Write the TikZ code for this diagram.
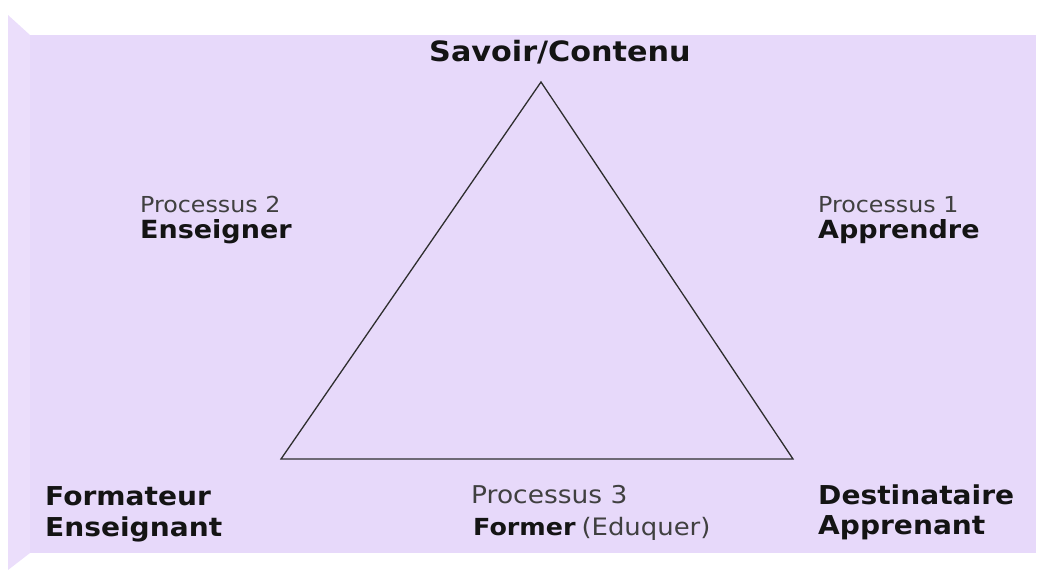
\documentclass[tikz,border=0pt]{standalone}
\usepackage{fontspec}
\setmainfont{DejaVu Sans}[FakeStretch=1.08]
\usetikzlibrary{positioning}
\definecolor{lavande}{HTML}{E7D9FA}
\definecolor{lavandeclair}{HTML}{EBDEFB}
\definecolor{trait}{HTML}{2E2E2E}
\tikzset{
  titre/.style={font=\fontsize{26}{30}\selectfont\bfseries, text=black!92, inner sep=0pt},
  processus/.style={font=\fontsize{22}{26}\selectfont, text=black!75, inner sep=0pt},
}

\begin{document}
\begin{tikzpicture}[x=1pt,y=-1pt]
\useasboundingbox (0,0) rectangle (1044,570);
% fond
\fill[lavandeclair] (8,15) -- (30,35) -- (30,553) -- (8,570) -- cycle;
\fill[lavande] (30,35) rectangle (1036,553);
% triangle didactique
\coordinate (savoir) at (541,82);
\coordinate (formateur) at (281,459);
\coordinate (apprenant) at (793,459);
\draw[trait, line width=1.3pt, line join=miter] (savoir) -- (apprenant) -- (formateur) -- cycle;
% sommets
\node[titre, anchor=base, font=\fontsize{28}{30}\selectfont\bfseries] (contenu) at (560,61) {Savoir/Contenu};
\node[titre, anchor=base west] (form1) at (45,505) {Formateur};
\node[titre, anchor=base west] (form2) at (45,536) {Enseignant};
\node[titre, anchor=base west] (dest1) at (818,504) {Destinataire};
\node[titre, anchor=base west] (dest2) at (818,534) {Apprenant};
% processus
\node[processus, anchor=base west] (proc2) at (140,212) {Processus 2};
\node[titre, anchor=base west, font=\fontsize{25}{30}\selectfont\bfseries] (ens) at (140,238) {Enseigner};
\node[processus, anchor=base west] (proc1) at (818,212) {Processus 1};
\node[titre, anchor=base west, font=\fontsize{25}{30}\selectfont\bfseries] (appr) at (818,238) {Apprendre};
\node[processus, anchor=base west, font=\fontsize{24.5}{26}\selectfont] (proc3) at (471,503) {Processus 3};
\node[titre, anchor=base west, font=\fontsize{23.5}{26}\selectfont\bfseries] (former) at (473,535)
  {Former\hspace{0.25em}\textmd{\fontsize{24}{26}\selectfont\color{black!75}(Eduquer)}};
\end{tikzpicture}
\end{document}
